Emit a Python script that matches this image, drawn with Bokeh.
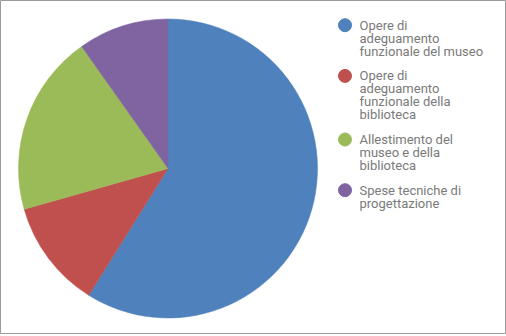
import math
from bokeh.plotting import figure
from bokeh.models import Range1d, ColumnDataSource
from bokeh.core.properties import value
from bokeh.embed import file_html
from bokeh.resources import INLINE

# Data
categories = [
    "Opere di\nadeguamento\nfunzionale del museo",
    "Opere di\nadeguamento\nfunzionale della\nbiblioteca",
    "Allestimento del\nmuseo e della\nbiblioteca",
    "Spese tecniche di\nprogettazione",
]
shares = [58.9, 11.7, 19.6, 9.8]
colors = ["#4F81BD", "#C0504D", "#9BBB59", "#8064A2"]

W, H = 506, 334
p = figure(width=W, height=H, output_backend="svg", toolbar_location=None,
           x_range=Range1d(0, W), y_range=Range1d(0, H), min_border=0)
p.axis.visible = False
p.grid.visible = False
p.outline_line_color = "#9a9a9a"
p.outline_line_width = 1
p.background_fill_color = "white"
p.border_fill_color = "white"

cx, cy, r = 167.5, H - 168, 149.5
total = sum(shares)
starts, ends = [], []
cum = 0.0
for s in shares:
    starts.append(math.pi / 2 - 2 * math.pi * cum / total)
    cum += s
    ends.append(math.pi / 2 - 2 * math.pi * cum / total)

src = ColumnDataSource(dict(start=starts, end=ends, color=colors))
p.wedge(x=cx, y=cy, radius=r, radius_units="screen", start_angle="start",
        end_angle="end", direction="clock", fill_color="color",
        line_color="color", line_width=0.5, source=src)

# Legend
line_h = 12.9
gap = 12.0
y0 = 24.7
lx, ly_text = 344.5, 359
dot_x, dot_y, dot_c = [], [], []
tx, ty, tt = [], [], []
y = y0
for lab, col in zip(categories, colors):
    lines = lab.split("\n")
    dot_x.append(lx)
    dot_y.append(H - y)
    dot_c.append(col)
    for i, ln in enumerate(lines):
        tx.append(ly_text)
        ty.append(H - (y + i * line_h))
        tt.append(ln)
    y += len(lines) * line_h + gap

p.scatter(x=dot_x, y=dot_y, size=13, marker="circle", fill_color=dot_c,
          line_color=dot_c)
p.text(x=tx, y=ty, text=tt, text_font=value("Roboto"), text_font_size="13px",
       text_color="#7a7a7a", text_baseline="middle", text_align="left")

open("out.html", "w").write(file_html(p, INLINE))
